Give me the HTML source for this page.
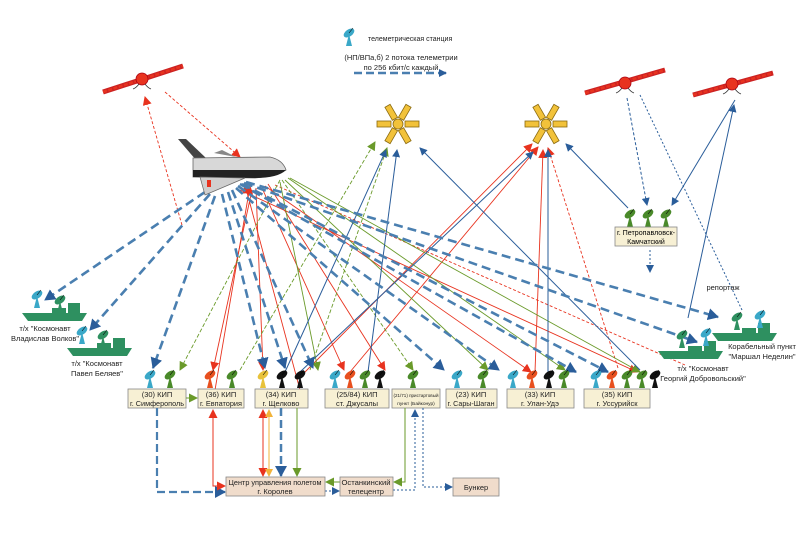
<!DOCTYPE html>
<html><head><meta charset="utf-8"><style>
html,body{margin:0;padding:0;background:#fff;}
svg{display:block;font-family:"Liberation Sans",Arial,sans-serif;}
</style></head><body>
<svg width="800" height="533" viewBox="0 0 800 533" xmlns="http://www.w3.org/2000/svg">
<defs>
<marker id="mb" markerWidth="8" markerHeight="8" refX="7" refY="4" orient="auto" markerUnits="userSpaceOnUse"><path d="M0,0 L8,4 L0,8 z" fill="#2a5d9a"/></marker>
<marker id="mbb" markerWidth="12" markerHeight="12" refX="10" refY="6" orient="auto" markerUnits="userSpaceOnUse"><path d="M0,0 L11,6 L0,12 z" fill="#2a5d9a"/></marker>
<marker id="mr" markerWidth="9" markerHeight="9" refX="8" refY="4.5" orient="auto" markerUnits="userSpaceOnUse"><path d="M0,0 L9,4.5 L0,9 z" fill="#e8331f"/></marker>
<marker id="mg" markerWidth="9" markerHeight="9" refX="8" refY="4.5" orient="auto" markerUnits="userSpaceOnUse"><path d="M0,0 L9,4.5 L0,9 z" fill="#6a9a2a"/></marker>
<marker id="my" markerWidth="8" markerHeight="8" refX="7" refY="4" orient="auto" markerUnits="userSpaceOnUse"><path d="M0,0 L8,4 L0,8 z" fill="#f2b33a"/></marker>
<g id="ant">
<path d="M-3,18 L0,6 L3,18 z"/>
<ellipse cx="0" cy="5" rx="6" ry="3.5" transform="rotate(-35 0 5)"/>
<line x1="0" y1="5" x2="4" y2="0" stroke="#000" stroke-width="0.6"/>
</g>
<g id="satr">
<circle r="6" fill="#e8331f" stroke="#a01" stroke-width="0.8"/>
<path d="M-3,5 Q-6,9 -9,10 M3,5 Q6,9 9,10" stroke="#333" fill="none" stroke-width="0.8"/>
</g>
<g id="saty">
<g fill="#f2c23a" stroke="#8a6a10" stroke-width="0.8">
<rect x="-21" y="-3" width="14" height="6"/><rect x="7" y="-3" width="14" height="6"/>
<rect x="-3" y="-21" width="6" height="15" transform="rotate(30)"/><rect x="-3" y="-21" width="6" height="15" transform="rotate(-30)"/>
<rect x="-3" y="6" width="6" height="15" transform="rotate(-30)"/><rect x="-3" y="6" width="6" height="15" transform="rotate(30)"/>
<circle r="5"/></g>
</g>
<g id="ship">
<path d="M0,10 L65,10 L60,18 L6,18 z" fill="#2e9060"/>
<rect x="30" y="5" width="14" height="6" fill="#2e9060"/>
<rect x="46" y="0" width="12" height="11" fill="#2e9060"/>
</g>
</defs>

<g fill="#3aa8c8"><use href="#ant" x="349" y="28"/></g>
<text x="368" y="41" font-size="7" fill="#222">телеметрическая станция</text>
<text x="401" y="60" font-size="7.5" text-anchor="middle" fill="#222">(НП/ВПа,б) 2 потока телеметрии</text>
<text x="401" y="70" font-size="7.5" text-anchor="middle" fill="#222">по 256 кбит/с каждый</text>
<line x1="354" y1="73" x2="446" y2="73" stroke="#4a7fb0" stroke-width="2.5" stroke-dasharray="8,4" marker-end="url(#mb)"/>

<g stroke="#e8331f" stroke-width="0.9" fill="none" marker-end="url(#mr)">
<line x1="182" y1="225" x2="145" y2="97" stroke-dasharray="3,2"/>
<line x1="165" y1="92" x2="240" y2="157" stroke-dasharray="3,2"/>
<line x1="215" y1="390" x2="250" y2="186"/>
<line x1="300" y1="390" x2="245" y2="185"/>
<line x1="252" y1="190" x2="213" y2="370"/>
<line x1="256" y1="188" x2="263" y2="370"/>
<line x1="262" y1="188" x2="344" y2="370"/>
<line x1="265" y1="186" x2="531" y2="372"/>
<line x1="268" y1="184" x2="385" y2="370"/>
<line x1="305" y1="372" x2="532" y2="144"/>
<line x1="350" y1="372" x2="538" y2="147"/>
<line x1="535" y1="372" x2="543" y2="150"/>
<line x1="618" y1="368" x2="548" y2="148" stroke-dasharray="3,2"/>
<line x1="240" y1="190" x2="637" y2="372"/>
<line x1="275" y1="185" x2="685" y2="365" stroke-dasharray="3,2" marker-end="none"/>
</g>
<g stroke="#6a9a2a" stroke-width="0.9" fill="none" marker-end="url(#mg)">
<line x1="280" y1="180" x2="180" y2="370" stroke-dasharray="4,2"/>
<line x1="240" y1="370" x2="375" y2="142" stroke-dasharray="4,2"/>
<line x1="280" y1="182" x2="318" y2="370"/>
<line x1="282" y1="180" x2="413" y2="370" stroke-dasharray="4,2"/>
<line x1="285" y1="180" x2="488" y2="370"/>
<line x1="288" y1="178" x2="565" y2="370"/>
<line x1="290" y1="178" x2="640" y2="372"/>
<line x1="310" y1="370" x2="387" y2="148" stroke-dasharray="4,2"/>
</g>
<g stroke="#2a5d9a" stroke-width="1" fill="none" marker-end="url(#mb)">
<line x1="285" y1="372" x2="386" y2="150"/>
<line x1="368" y1="372" x2="397" y2="150"/>
<line x1="640" y1="370" x2="420" y2="148"/>
<line x1="300" y1="372" x2="533" y2="152"/>
<line x1="548" y1="372" x2="548" y2="150"/>
<line x1="628" y1="208" x2="566" y2="144"/>
<line x1="627" y1="98" x2="647" y2="205" stroke-dasharray="3,2"/>
<line x1="735" y1="100" x2="672" y2="205"/>
<line x1="640" y1="95" x2="742" y2="310" stroke-dasharray="2,2" marker-end="none"/>
<line x1="688" y1="318" x2="734" y2="105"/>
<line x1="650" y1="250" x2="650" y2="272" stroke-dasharray="2,2"/>
</g>
<g stroke="#4a7fb0" stroke-width="2.6" fill="none" stroke-dasharray="9,5" marker-end="url(#mbb)">
<line x1="205" y1="192" x2="45" y2="300"/>
<line x1="210" y1="194" x2="90" y2="330"/>
<line x1="215" y1="196" x2="153" y2="368"/>
<line x1="222" y1="194" x2="265" y2="368"/>
<line x1="228" y1="192" x2="285" y2="368"/>
<line x1="232" y1="190" x2="313" y2="368"/>
<line x1="236" y1="188" x2="444" y2="370"/>
<line x1="238" y1="186" x2="499" y2="370"/>
<line x1="240" y1="184" x2="576" y2="372"/>
<line x1="242" y1="184" x2="608" y2="372"/>
<line x1="244" y1="183" x2="697" y2="342"/>
<line x1="246" y1="182" x2="718" y2="317"/>
</g>

<line x1="103" y1="92" x2="183" y2="66" stroke="#c22" stroke-width="5"/>
<line x1="103" y1="92" x2="183" y2="66" stroke="#e8331f" stroke-width="2.5" stroke-dasharray="4,1.5"/>
<use href="#satr" x="142" y="79"/>
<line x1="585" y1="93" x2="665" y2="70" stroke="#c22" stroke-width="5"/>
<line x1="585" y1="93" x2="665" y2="70" stroke="#e8331f" stroke-width="2.5" stroke-dasharray="4,1.5"/>
<use href="#satr" x="625" y="83"/>
<line x1="693" y1="95" x2="773" y2="73" stroke="#c22" stroke-width="5"/>
<line x1="693" y1="95" x2="773" y2="73" stroke="#e8331f" stroke-width="2.5" stroke-dasharray="4,1.5"/>
<use href="#satr" x="732" y="84"/>
<use href="#saty" x="398" y="124"/>
<use href="#saty" x="546" y="124"/>

<path d="M178,139 L186,139 L206,158 L196,160 z" fill="#444"/>
<path d="M214,153 L222,150 L236,157 z" fill="#888"/>
<path d="M193,158 L270,157 Q283,160 286,170 Q275,176 255,178 L193,177 z" fill="#d8d8d8" stroke="#666" stroke-width="0.8"/>
<path d="M193,170 L286,170 Q278,178 255,178 L193,177 z" fill="#222"/>
<path d="M200,177 L245,178 L205,195 z" fill="#cfcfcf" stroke="#666" stroke-width="0.7"/>
<rect x="207" y="180" width="4" height="7" fill="#e8331f"/>

<use href="#ship" x="22" y="303"/>
<use href="#ship" x="67" y="338"/>
<use href="#ship" x="712" y="323"/>
<use href="#ship" x="658" y="341"/>
<g fill="#3aa8c8"><use href="#ant" x="37" y="290"/><use href="#ant" x="82" y="326"/><use href="#ant" x="760" y="310"/><use href="#ant" x="706" y="328"/></g>
<g fill="#2e9060"><use href="#ant" x="60" y="295"/><use href="#ant" x="103" y="330"/><use href="#ant" x="737" y="312"/><use href="#ant" x="682" y="330"/></g>
<g font-size="7.5" text-anchor="middle" fill="#222">
<text x="45" y="331">т/х "Космонавт</text><text x="45" y="341">Владислав Волков"</text>
<text x="97" y="366">т/х "Космонавт</text><text x="97" y="376">Павел Беляев"</text>
<text x="762" y="349">Корабельный пункт</text><text x="762" y="359">"Маршал Неделин"</text>
<text x="703" y="371">т/х "Космонавт</text><text x="703" y="381">Георгий Добровольский"</text>
<text x="723" y="290">репортаж</text>
</g>

<g fill="#4a8a2a"><use href="#ant" x="630" y="209"/><use href="#ant" x="648" y="209"/><use href="#ant" x="666" y="209"/></g>
<rect x="615" y="227" width="62" height="19" fill="#f7f0d4" stroke="#888" stroke-width="0.8"/>
<text x="646" y="235" font-size="7" text-anchor="middle" textLength="58" lengthAdjust="spacingAndGlyphs">г. Петропавловск-</text>
<text x="646" y="244" font-size="7" text-anchor="middle">Камчатский</text>

<g fill="#3aa8c8"><use href="#ant" x="150" y="370"/><use href="#ant" x="335" y="370"/><use href="#ant" x="457" y="370"/><use href="#ant" x="513" y="370"/><use href="#ant" x="596" y="370"/></g>
<g fill="#4a8a2a"><use href="#ant" x="170" y="370"/><use href="#ant" x="232" y="370"/><use href="#ant" x="365" y="370"/><use href="#ant" x="413" y="370"/><use href="#ant" x="483" y="370"/><use href="#ant" x="564" y="370"/><use href="#ant" x="627" y="370"/><use href="#ant" x="642" y="370"/></g>
<g fill="#e8501f"><use href="#ant" x="210" y="370"/><use href="#ant" x="350" y="370"/><use href="#ant" x="532" y="370"/><use href="#ant" x="612" y="370"/></g>
<g fill="#e8c23a"><use href="#ant" x="263" y="370"/></g>
<g fill="#111"><use href="#ant" x="282" y="370"/><use href="#ant" x="300" y="370"/><use href="#ant" x="380" y="370"/><use href="#ant" x="549" y="370"/><use href="#ant" x="655" y="370"/></g>

<g fill="#f7f0d4" stroke="#888" stroke-width="0.8">
<rect x="128" y="389" width="58" height="19"/>
<rect x="198" y="389" width="46" height="19"/>
<rect x="255" y="389" width="53" height="19"/>
<rect x="325" y="389" width="64" height="19"/>
<rect x="392" y="389" width="48" height="19"/>
<rect x="446" y="389" width="51" height="19"/>
<rect x="507" y="389" width="67" height="19"/>
<rect x="584" y="389" width="66" height="19"/>
</g>
<g font-size="7.5" text-anchor="middle" fill="#222">
<text x="157" y="397">(30) КИП</text><text x="157" y="406" textLength="54" lengthAdjust="spacingAndGlyphs">г. Симферополь</text>
<text x="221" y="397">(36) КИП</text><text x="221" y="406" textLength="42" lengthAdjust="spacingAndGlyphs">г. Евпатория</text>
<text x="281" y="397">(34) КИП</text><text x="281" y="406">г. Щелково</text>
<text x="357" y="397">(25/84) КИП</text><text x="357" y="406">ст. Джусалы</text>
<text x="416" y="397" font-size="4.8" textLength="45" lengthAdjust="spacingAndGlyphs">(21/71) пристартовый</text><text x="416" y="405" font-size="4.8">пункт (Байконур)</text>
<text x="471" y="397">(23) КИП</text><text x="471" y="406" textLength="47" lengthAdjust="spacingAndGlyphs">г. Сары-Шаган</text>
<text x="540" y="397">(33) КИП</text><text x="540" y="406">г. Улан-Удэ</text>
<text x="617" y="397">(35) КИП</text><text x="617" y="406">г. Уссурийск</text>
</g>

<line x1="186" y1="398" x2="197" y2="398" stroke="#6a9a2a" marker-end="url(#mg)"/>
<path d="M157,408 L157,492 L225,492" stroke="#4a7fb0" stroke-width="2.2" stroke-dasharray="8,4" fill="none" marker-end="url(#mbb)"/>
<path d="M213,410 L213,486 L225,486" stroke="#e8331f" fill="none" marker-end="url(#mr)"/>
<line x1="213" y1="486" x2="213" y2="410" stroke="#e8331f" marker-end="url(#mr)"/>
<line x1="263" y1="410" x2="263" y2="476" stroke="#e8331f" marker-end="url(#mr)"/>
<line x1="263" y1="476" x2="263" y2="410" stroke="#e8331f" marker-end="url(#mr)"/>
<line x1="269" y1="410" x2="269" y2="476" stroke="#f2b33a" marker-end="url(#my)"/>
<line x1="269" y1="476" x2="269" y2="410" stroke="#f2b33a" marker-end="url(#my)"/>
<line x1="281" y1="408" x2="281" y2="476" stroke="#4a7fb0" stroke-width="2.5" stroke-dasharray="8,4" marker-end="url(#mbb)"/>
<line x1="297" y1="408" x2="297" y2="476" stroke="#6a9a2a" marker-end="url(#mg)"/>
<path d="M405,408 L405,482 L394,482" stroke="#6a9a2a" fill="none" marker-end="url(#mg)"/>
<line x1="340" y1="482" x2="326" y2="482" stroke="#6a9a2a" marker-end="url(#mg)"/>
<line x1="325" y1="491" x2="339" y2="491" stroke="#2a5d9a" stroke-dasharray="2,2" marker-end="url(#mb)"/>
<path d="M393,490 L415,490 L415,410" stroke="#2a5d9a" stroke-dasharray="2,2" fill="none" marker-end="url(#mb)"/>
<path d="M423,408 L423,487 L452,487" stroke="#2a5d9a" stroke-dasharray="2,2" fill="none" marker-end="url(#mb)"/>

<rect x="226" y="477" width="99" height="19" fill="#f0dccb" stroke="#888" stroke-width="0.8"/>
<rect x="340" y="477" width="53" height="19" fill="#f0dccb" stroke="#888" stroke-width="0.8"/>
<rect x="453" y="478" width="46" height="18" fill="#f0dccb" stroke="#888" stroke-width="0.8"/>
<g font-size="7.5" text-anchor="middle" fill="#222">
<text x="275" y="485" textLength="93" lengthAdjust="spacingAndGlyphs">Центр управления полетом</text><text x="275" y="494">г. Королев</text>
<text x="366" y="485" textLength="49" lengthAdjust="spacingAndGlyphs">Останкинский</text><text x="366" y="494">телецентр</text>
<text x="476" y="490">Бункер</text>
</g>
</svg>
</body></html>
